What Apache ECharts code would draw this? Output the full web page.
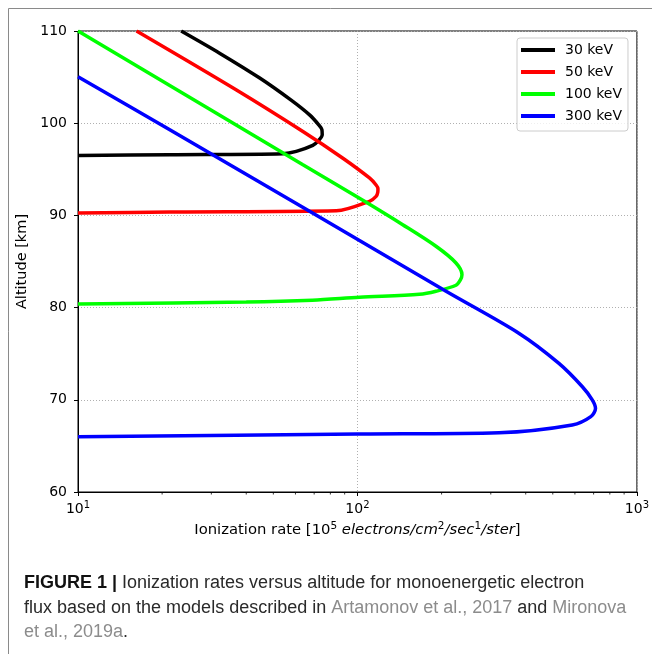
<!DOCTYPE html>
<html>
<head>
<meta charset="utf-8">
<script src="https://cdn.jsdelivr.net/npm/echarts@6/dist/echarts.min.js"></script>
<style>
  html, body { margin: 0; padding: 0; background: #fff; }
  #chart { width: 652px; height: 654px; }
</style>
</head>
<body>
<div id="chart"></div>
<script>
// Series labels and colours as in the figure
const energies = ['30 keV', '50 keV', '100 keV', '300 keV'];
const lineColors = ['#000000', '#ff0000', '#00ff00', '#0000ff'];

// Ionization rate (10^5 el/cm2/s/sr) and altitude (km)
const rate30 = [23.4, 32.1, 44.7, 57.9, 67.4, 72.8, 74.6, 74.8, 72.1, 69.2, 60.4, 54.1, 21.3, 10];
const alt30 = [110, 107.6, 104.9, 102.5, 100.9, 99.8, 99.3, 98.75, 98.03, 97.6, 96.95, 96.7, 96.59, 96.5];

const rate50 = [16.2, 36.9, 63.8, 88.7, 110.4, 116.6, 118.4, 118.2, 116.6, 110.4, 84, 21.3, 10];
const alt50 = [110, 103.6, 99.1, 96.2, 94.06, 93.3, 92.9, 92.5, 92.07, 91.53, 90.5, 90.37, 90.25];

const rate100 = [10, 63.8, 106, 145.2, 191, 225.2, 236.6, 233.5, 225.2, 191, 166.5, 101.6, 69, 40, 10];
const alt100 = [110, 95.5, 91.53, 88.99, 86.65, 84.84, 83.57, 83.0, 82.42, 81.77, 81.44, 81.12, 80.8, 80.6, 80.4];

const rate300 = [10, 21.3, 67.4, 207.5, 379, 526, 638, 692, 711, 684, 587, 321, 100, 10];
const alt300 = [105.04, 99.3, 90.44, 81.77, 77.2, 73.95, 71.42, 70.0, 69.08, 68.17, 67.27, 66.43, 66.29, 66.0];

const rateSeries = [rate30, rate50, rate100, rate300];
const altSeries = [alt30, alt50, alt100, alt300];

// Axis ranges and tick values
const xMin = 10;
const xMax = 1000;
const yMin = 60;
const yMax = 110;
const yStep = 10;
const minorTickValues = [20, 30, 40, 50, 60, 70, 80, 90, 200, 300, 400, 500, 600, 700, 800, 900];

const chart = echarts.init(document.getElementById('chart'), null, { renderer: 'canvas' });

const supRich = {
  b: { fontSize: 14, lineHeight: 18, fontFamily: 'DejaVu Sans', color: '#000' },
  s: { fontSize: 10, lineHeight: 10, verticalAlign: 'top', fontFamily: 'DejaVu Sans', color: '#000' },
};

const captionRich = {
  b: { fontSize: 18, fontWeight: 'bold', fontFamily: 'Liberation Sans', fill: '#111' },
  t: { fontSize: 18, fontFamily: 'Liberation Sans', fill: '#2a2a2a' },
  r: { fontSize: 18, fontFamily: 'Liberation Sans', fill: '#8c8c8c' },
};

const lineSeries = energies.map((name, i) => ({
  name,
  type: 'line',
  showSymbol: false,
  symbol: 'none',
  smooth: 0.3,
  clip: true,
  color: lineColors[i],
  lineStyle: { width: 3.5, color: lineColors[i] },
  data: rateSeries[i].map((r, k) => [r, altSeries[i][k]]),
}));

// minor log ticks (2..9 of each decade) drawn under the x axis
const minorTickSeries = {
  name: 'minor ticks',
  type: 'custom',
  silent: true,
  clip: false,
  data: minorTickValues.map((v) => [v, yMin]),
  renderItem: (params, api) => {
    const p = api.coord([api.value(0), api.value(1)]);
    return {
      type: 'line',
      shape: { x1: p[0], y1: p[1], x2: p[0], y2: p[1] + 2.5 },
      style: { stroke: '#000', lineWidth: 0.8 },
    };
  },
};

const option = {
  animation: false,
  backgroundColor: '#fff',
  textStyle: { fontFamily: 'DejaVu Sans' },
  grid: {
    left: 78,
    right: 14,
    top: 31,
    bottom: 162,
    show: true,
    borderColor: '#000',
    borderWidth: 1,
    backgroundColor: 'transparent',
  },
  legend: {
    orient: 'vertical',
    left: 517,
    top: 38,
    icon: 'rect',
    itemWidth: 34,
    itemHeight: 4,
    itemGap: 6,
    padding: [4, 6, 7, 4],
    backgroundColor: 'rgba(255,255,255,0.8)',
    borderColor: '#cccccc',
    borderWidth: 1,
    borderRadius: 3,
    textStyle: {
      fontSize: 14,
      lineHeight: 16,
      color: '#000',
      fontFamily: 'DejaVu Sans',
      padding: [0, 0, 0, 5],
    },
    data: energies,
  },
  xAxis: {
    type: 'log',
    logBase: 10,
    min: xMin,
    max: xMax,
    name: 'Ionization rate [10{s|5} {i|electrons/cm}{is|2}{i|/sec}{is|1}{i|/ster}]',
    nameLocation: 'middle',
    nameGap: 28,
    nameTextStyle: {
      fontSize: 14.8,
      lineHeight: 18,
      color: '#000',
      fontFamily: 'DejaVu Sans',
      rich: {
        s: { fontSize: 10.5, lineHeight: 10, verticalAlign: 'top', color: '#000' },
        i: { fontSize: 14.8, lineHeight: 18, fontStyle: 'italic', color: '#000' },
        is: { fontSize: 10.5, lineHeight: 10, verticalAlign: 'top', color: '#000' },
      },
    },
    axisLine: { show: true, lineStyle: { color: '#000', width: 1 } },
    axisTick: { show: true, length: 4, lineStyle: { color: '#000', width: 1 } },
    axisLabel: {
      margin: 8,
      formatter: (value) => '{b|10}{s|' + Math.round(Math.log10(value)) + '}',
      rich: supRich,
    },
    splitLine: {
      show: true,
      lineStyle: { color: '#b0b0b0', width: 1, type: [1, 2] },
    },
  },
  yAxis: {
    type: 'value',
    min: yMin,
    max: yMax,
    interval: yStep,
    name: 'Altitude [km]',
    nameLocation: 'middle',
    nameGap: 41,
    nameRotate: 90,
    nameTextStyle: { fontSize: 14.5, color: '#000', fontFamily: 'DejaVu Sans' },
    axisLine: { show: true, lineStyle: { color: '#000', width: 1 } },
    axisTick: { show: true, length: 4, lineStyle: { color: '#000', width: 1 } },
    axisLabel: { fontSize: 14, color: '#000', margin: 11, fontFamily: 'DejaVu Sans' },
    splitLine: {
      show: true,
      lineStyle: { color: '#b0b0b0', width: 1, type: [1, 2] },
    },
  },
  series: lineSeries.concat([minorTickSeries]),
  graphic: [
    { type: 'line', shape: { x1: 8.5, y1: 8.5, x2: 652, y2: 8.5 }, style: { stroke: '#8a8a8a', lineWidth: 1 }, silent: true },
    { type: 'line', shape: { x1: 8.5, y1: 8.5, x2: 8.5, y2: 654 }, style: { stroke: '#8a8a8a', lineWidth: 1 }, silent: true },
    {
      type: 'text',
      left: 24,
      top: 574,
      style: {
        text: '{b|FIGURE 1 |} {t|Ionization rates versus altitude for monoenergetic electron}',
        rich: captionRich,
        font: '18px "Liberation Sans"',
      },
    },
    {
      type: 'text',
      left: 24,
      top: 599,
      style: {
        text: '{t|flux based on the models described in }{r|Artamonov et al., 2017}{t| and }{r|Mironova}',
        rich: captionRich,
        font: '18px "Liberation Sans"',
      },
    },
    {
      type: 'text',
      left: 24,
      top: 623,
      style: {
        text: '{r|et al., 2019a}{t|.}',
        rich: captionRich,
        font: '18px "Liberation Sans"',
      },
    },
  ],
};

chart.setOption(option);
</script>
</body>
</html>
